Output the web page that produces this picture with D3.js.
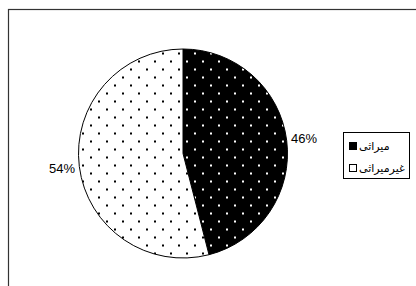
<!DOCTYPE html>
<html>
<head>
<meta charset="utf-8">
<script src="https://cdn.jsdelivr.net/npm/d3@7"></script>
<style>
  body { margin: 0; background: #fff; }
  svg { display: block; }
  text { font-family: "Liberation Sans", Arial, "DejaVu Sans", sans-serif; }
</style>
</head>
<body>
<div id="chart"></div>
<script>
// DATA
var categories = ["میراثی", "غیرمیراثی"];
var values = [46, 54];
var valueLabels = ["46%", "54%"];

var width = 416, height = 286;
var cx = 183, cy = 153.5, radius = 104.5, labelRadius = 122;

var svg = d3.select("#chart").append("svg")
  .attr("width", width).attr("height", height);

// PATTERNS (dotted fills)
var defs = svg.append("defs");
function dotPattern(id, bg, dot){
  var p = defs.append("pattern").attr("id", id)
    .attr("patternUnits", "userSpaceOnUse")
    .attr("width", 16).attr("height", 16);
  p.append("rect").attr("width", 16).attr("height", 16).attr("fill", bg);
  p.append("rect").attr("x", 3).attr("y", 3).attr("width", 2).attr("height", 2).attr("fill", dot);
  p.append("rect").attr("x", 11).attr("y", 11).attr("width", 2).attr("height", 2).attr("fill", dot);
}
dotPattern("dotsBlack", "#000", "#fff");
dotPattern("dotsWhite", "#fff", "#000");
var fills = ["url(#dotsBlack)", "url(#dotsWhite)"];

// CHART AREA BORDER
svg.append("rect")
  .attr("x", 8.5).attr("y", 9.5)
  .attr("width", 420).attr("height", 290)
  .attr("fill", "none").attr("stroke", "#333").attr("stroke-width", 1.2);

// PIE
var pie = d3.pie().sort(null).value(function(d){ return d; });
var arc = d3.arc().innerRadius(0).outerRadius(radius);
var labelArc = d3.arc().innerRadius(labelRadius).outerRadius(labelRadius);
var arcs = pie(values);

var g = svg.append("g").attr("transform", "translate(" + cx + "," + cy + ")");
g.selectAll("path.slice").data(arcs)
  .enter().append("path").attr("class", "slice")
  .attr("d", arc)
  .attr("fill", function(d, i){ return fills[i]; })
  .attr("stroke", "#000").attr("stroke-width", 1);

g.selectAll("text.pct").data(arcs)
  .enter().append("text").attr("class", "pct")
  .attr("transform", function(d){ return "translate(" + labelArc.centroid(d) + ")"; })
  .attr("text-anchor", "middle")
  .attr("dy", "0.35em")
  .attr("font-size", 13)
  .attr("fill", "#000")
  .text(function(d, i){ return valueLabels[i]; });

// LEGEND
var legend = svg.append("g").attr("transform", "translate(343,132)");
legend.append("rect")
  .attr("x", 0.5).attr("y", 0.5).attr("width", 66).attr("height", 46)
  .attr("fill", "#fff").attr("stroke", "#000").attr("stroke-width", 1);

var swatchFills = ["#000", "#fff"];
var item = legend.selectAll("g.item").data(categories)
  .enter().append("g").attr("class", "item")
  .attr("transform", function(d, i){ return "translate(6," + (14 + i * 22) + ")"; });
item.append("rect")
  .attr("x", 0.5).attr("y", -3.5).attr("width", 7).attr("height", 7)
  .attr("fill", function(d, i){ return swatchFills[i]; })
  .attr("stroke", "#000").attr("stroke-width", 1);
item.append("text")
  .attr("x", 10).attr("dy", "0.35em")
  .attr("font-size", 11)
  .attr("direction", "ltr")
  .text(function(d){ return d; });
</script>
</body>
</html>
